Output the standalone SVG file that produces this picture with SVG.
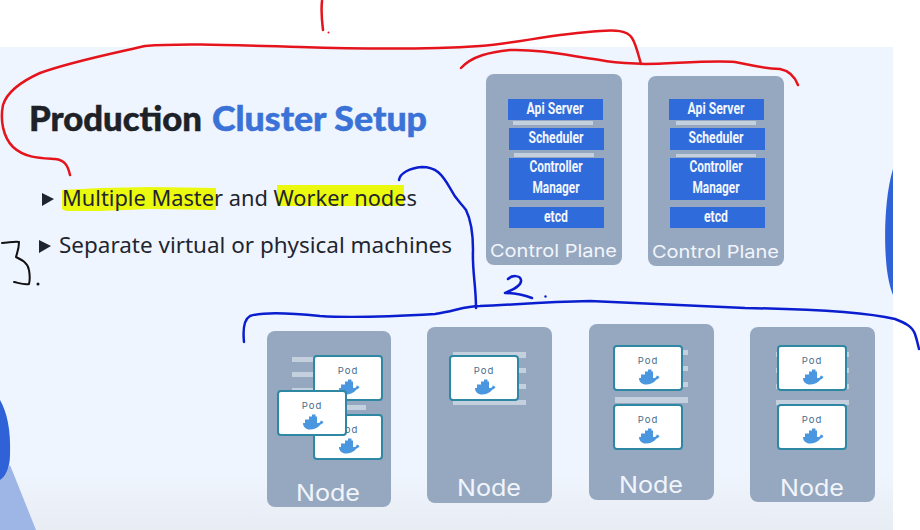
<svg xmlns="http://www.w3.org/2000/svg" width="920" height="530" viewBox="0 0 920 530">
<style>
.panel{fill:#96a8c0}
.comp{fill:#2f6bdb}
.bar{fill:#c5d0de}
.clabel{font-family:"Roboto","Liberation Sans",sans-serif;font-weight:700;font-size:17px;fill:#f2f6fc;text-anchor:middle}
.plabel{font-family:"Inter","Liberation Sans",sans-serif;font-size:17.500px;fill:#f1f5fb}
.nlabel{font-family:"Inter","Liberation Sans",sans-serif;font-size:22.500px;fill:#f1f5fb}
.podbox{fill:#fff;stroke:#2f88a3;stroke-width:2}
.podtext{font-family:"Inter","Liberation Sans",sans-serif;font-size:9.500px;letter-spacing:1px;fill:#3f6d8a;text-anchor:middle}
.body{font-family:"Noto Sans","Liberation Sans",sans-serif;font-size:21px;fill:#1e2530}
.title{font-family:"Lato","Liberation Sans",sans-serif;font-weight:900;font-size:35px;stroke-width:0.500px}
.whale{fill:#4a97e0}
.ink{fill:none;stroke-linecap:round;stroke-linejoin:round;stroke-width:2.500}
.red{stroke:#e5141c}
.blue{stroke:#0a1ecf}
.black{stroke:#111;stroke-width:2}
</style>
<defs>
<linearGradient id="bg" x1="0" y1="0" x2="0" y2="1">
<stop offset="0" stop-color="#eff5fe"/><stop offset="0.88" stop-color="#eff5fe"/><stop offset="1" stop-color="#e8ecf3"/>
</linearGradient>
<g id="whale">
<path class="whale" d="M-10-1H5.500C7-1 7.500-3 8-3.500C9-3 10-2.500 10.500-2C9.500 0 8.500 0 7.500 .5C5 4 1 5.500-3 5.500C-7 5.500-10 3-10-1Z"/>
<path class="whale" d="M-8-4.500H4V0H-8ZM-4-7.500H4V-4H-4ZM-1-9.500H2.500V-7H-1Z"/>
</g>
<g id="podbody"><rect class="podbox" x="0" y="0" width="68" height="44" rx="3"/><text class="podtext" x="34" y="18">Pod</text><use href="#whale" x="35" y="33"/></g>
</defs>
<rect width="920" height="530" fill="#fff"/>
<rect x="0" y="47" width="893" height="483" fill="url(#bg)"/>
<path fill="#2f62d6" d="M893 169C885 195 884 235 886 260C887 275 890 288 893 295Z"/>
<path fill="#9db6e6" d="M10 465L36 530H0V478Z"/>
<path fill="#2f62d6" d="M0 400C7 412 11 430 10 455C10 468 5 477 0 480Z"/>

<g id="heading">
<text class="title" y="131"><tspan x="29" fill="#1d2128" stroke="#1d2128" textLength="173" lengthAdjust="spacingAndGlyphs">Production</tspan><tspan x="212" fill="#3a72d8" stroke="#3a72d8" textLength="215" lengthAdjust="spacingAndGlyphs">Cluster Setup</tspan></text>
</g>
<g id="bullets">
<path d="M62 190L100 188L150 187L216 188L216 210L150 209L100 211L66 211L62 209Z" fill="#ebf90e"/>
<rect x="277" y="185" width="127" height="21" fill="#ebf90e"/>
<path d="M42 193L54 199L42 206Z" fill="#1e2530"/>
<text class="body" x="62" y="206" textLength="355" lengthAdjust="spacingAndGlyphs">Multiple Master and Worker nodes</text>
<path d="M39 240L51 246L39 253Z" fill="#1e2530"/>
<text class="body" x="59" y="253" textLength="393" lengthAdjust="spacingAndGlyphs">Separate virtual or physical machines</text>
</g>

<g id="control-plane-1">
<rect class="panel" x="486" y="74" width="136" height="191" rx="8"/>
<rect class="bar" x="513" y="121" width="80" height="4"/>
<rect class="bar" x="514" y="153" width="80" height="4"/>
<rect class="comp" x="508" y="99" width="95" height="21"/>
<rect class="comp" x="509" y="128" width="95" height="22"/>
<rect class="comp" x="509" y="158" width="95" height="42"/>
<rect class="comp" x="509" y="207" width="95" height="21"/>
<text class="clabel" x="555" y="114" textLength="57" lengthAdjust="spacingAndGlyphs">Api Server</text>
<text class="clabel" x="556" y="143" textLength="55" lengthAdjust="spacingAndGlyphs">Scheduler</text>
<text class="clabel" x="556" y="172" textLength="53" lengthAdjust="spacingAndGlyphs">Controller</text>
<text class="clabel" x="556" y="193" textLength="47" lengthAdjust="spacingAndGlyphs">Manager</text>
<text class="clabel" x="556" y="222" textLength="24" lengthAdjust="spacingAndGlyphs">etcd</text>
<text class="plabel" x="490" y="257" textLength="127" lengthAdjust="spacingAndGlyphs">Control Plane</text>
</g>
<g id="control-plane-2">
<rect class="panel" x="648" y="76" width="136" height="190" rx="8"/>
<rect class="bar" x="676" y="121" width="80" height="4"/>
<rect class="bar" x="676" y="154" width="80" height="3"/>
<rect class="comp" x="669" y="99" width="95" height="21"/>
<rect class="comp" x="670" y="128" width="95" height="22"/>
<rect class="comp" x="670" y="158" width="95" height="42"/>
<rect class="comp" x="670" y="207" width="95" height="21"/>
<text class="clabel" x="716" y="114" textLength="57" lengthAdjust="spacingAndGlyphs">Api Server</text>
<text class="clabel" x="716" y="143" textLength="55" lengthAdjust="spacingAndGlyphs">Scheduler</text>
<text class="clabel" x="716" y="172" textLength="53" lengthAdjust="spacingAndGlyphs">Controller</text>
<text class="clabel" x="716" y="193" textLength="47" lengthAdjust="spacingAndGlyphs">Manager</text>
<text class="clabel" x="716" y="222" textLength="24" lengthAdjust="spacingAndGlyphs">etcd</text>
<text class="plabel" x="652" y="258" textLength="127" lengthAdjust="spacingAndGlyphs">Control Plane</text>
</g>

<g id="node-1">
<rect class="panel" x="267" y="331" width="124" height="176" rx="8"/>
<rect class="bar" x="292" y="357" width="30" height="5"/><rect class="bar" x="292" y="372" width="30" height="5"/><rect class="bar" x="292" y="388" width="30" height="5"/><rect class="bar" x="340" y="405" width="26" height="5"/>
<use href="#podbody" transform="translate(314,356)"/>
<use href="#podbody" transform="translate(314,415)"/>
<use href="#podbody" transform="translate(278,391)"/>
<text class="nlabel" x="296" y="501" textLength="64" lengthAdjust="spacingAndGlyphs">Node</text>
</g>
<g id="node-2">
<rect class="panel" x="427" y="327" width="125" height="176" rx="8"/>
<rect class="bar" x="453" y="352" width="73" height="6"/><rect class="bar" x="453" y="368" width="73" height="5"/><rect class="bar" x="453" y="384" width="73" height="5"/><rect class="bar" x="453" y="400" width="73" height="5"/>
<use href="#podbody" transform="translate(450,356)"/>
<text class="nlabel" x="457" y="496" textLength="64" lengthAdjust="spacingAndGlyphs">Node</text>
</g>
<g id="node-3">
<rect class="panel" x="589" y="324" width="125" height="176" rx="8"/>
<rect class="bar" x="615" y="350" width="73" height="5"/><rect class="bar" x="615" y="366" width="73" height="5"/><rect class="bar" x="615" y="382" width="73" height="5"/><rect class="bar" x="615" y="397" width="73" height="6"/>
<use href="#podbody" transform="translate(614,346)"/>
<use href="#podbody" transform="translate(614,405)"/>
<text class="nlabel" x="619" y="493" textLength="64" lengthAdjust="spacingAndGlyphs">Node</text>
</g>
<g id="node-4">
<rect class="panel" x="750" y="327" width="125" height="175" rx="8"/>
<rect class="bar" x="776" y="352" width="73" height="5"/><rect class="bar" x="776" y="368" width="73" height="5"/><rect class="bar" x="776" y="384" width="73" height="5"/><rect class="bar" x="776" y="400" width="73" height="5"/>
<use href="#podbody" transform="translate(778,346)"/>
<use href="#podbody" transform="translate(778,405)"/>
<text class="nlabel" x="780" y="496" textLength="64" lengthAdjust="spacingAndGlyphs">Node</text>
</g>

<g id="annotations">
<path class="ink red" d="M70 175C68 166 65 160 55 159C40 158 25 158 13 147C3 137 0 120 3 105C7 92 20 82 40 73C70 62 110 54 145 46C180 43 230 45 300 47C360 49 420 50 480 46C520 43 550 34 600 31C615 30 627 30 632 38C636 44 638 54 641 64"/>
<path class="ink red" d="M461 68C472 56 490 52 510 50C540 49 570 56 600 60C615 63 625 63 645 64C670 64 710 60 735 62C750 65 760 68 780 69C790 71 795 77 798 85"/>
<path class="ink red" d="M322 1C321 10 322 22 323 30"/>
<circle cx="328.500" cy="32.500" r="1" fill="#e5141c"/>
<path class="ink blue" d="M399 180C400 173 410 168 422 167C436 167 442 174 450 188C456 200 460 202 466 210C472 222 473 235 473 250C472 270 476 285 476 308"/>
<path class="ink blue" d="M244 342C243 332 243 320 250 316C262 312 290 313 320 316C350 318 400 316 435 314C455 311 465 306 480 306C510 305 540 302 590 301C640 303 690 306 745 308C800 309 860 311 895 319C905 323 912 326 915 334C917 340 918 345 919 349"/>
<path class="ink blue" d="M508 279C512 275 520 275 521 280C522 286 512 290 505 293C512 293 524 295 532 298"/>
<circle cx="545.500" cy="296.500" r="1.200" fill="#0a1ecf"/>
<path class="ink black" d="M2 243C8 243 14 241 19 242C19 249 17 253 16 257C22 260 28 263 29 270C30 276 30 280 29 284C24 285 19 283 14 282"/>
<circle cx="38" cy="284" r="1.500" fill="#111"/>
</g>
</svg>
